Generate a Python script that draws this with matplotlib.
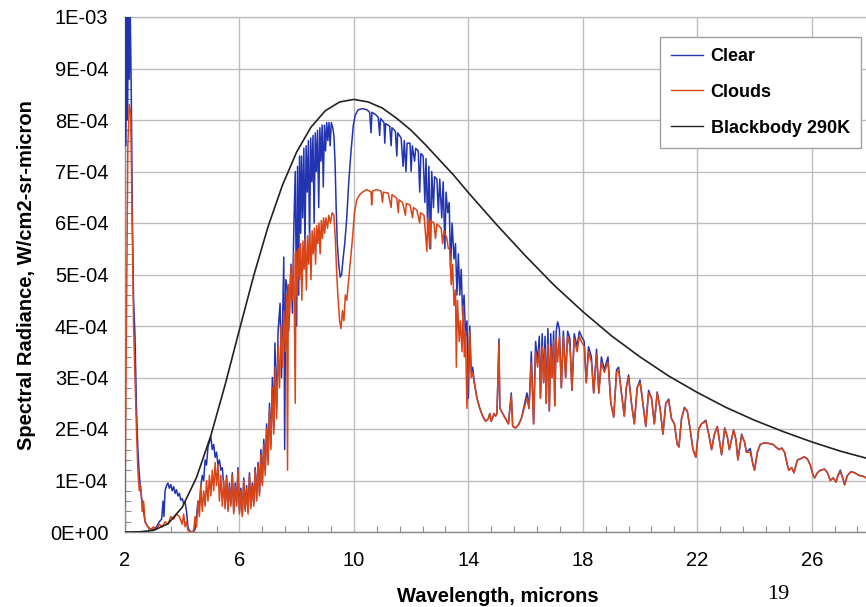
import numpy as np
import matplotlib
matplotlib.use("Agg")
import matplotlib.pyplot as plt
from matplotlib.ticker import FixedLocator, MultipleLocator, FuncFormatter

UNIT = 1e-4  # values below are given in units of 1E-04 W/cm2-sr-micron

# ---------------- Clear sky (blue) ----------------
clear_wl = [2.00, 2.03, 2.06, 2.09, 2.12, 2.15, 2.18, 2.22, 2.26, 2.30, 2.35, 2.40, 2.45, 2.50, 2.55, 2.62, 2.70, 2.80,
            2.90, 3.00, 3.10, 3.20, 3.28, 3.33, 3.36, 3.40, 3.45, 3.50, 3.55, 3.60, 3.65, 3.70, 3.75,
            3.80, 3.85, 3.90, 3.95, 4.00, 4.05, 4.10, 4.15, 4.20, 4.25, 4.35, 4.45, 4.50, 4.55, 4.60,
            4.65, 4.70, 4.75, 4.80, 4.85, 4.90, 4.95, 5.00, 5.05, 5.10, 5.15, 5.20, 5.25, 5.30, 5.35,
            5.40, 5.45, 5.50, 5.55, 5.60, 5.65, 5.70, 5.75, 5.80, 5.85, 5.90, 5.95, 6.00, 6.05, 6.10,
            6.15, 6.20, 6.25, 6.30, 6.35, 6.40, 6.45, 6.50, 6.55, 6.60, 6.65, 6.70, 6.75, 6.80, 6.85,
            6.90, 6.95, 7.00, 7.05, 7.10, 7.15, 7.20, 7.24, 7.30, 7.35, 7.42, 7.47, 7.55, 7.58, 7.62,
            7.68, 7.72, 7.80, 7.85, 7.90, 7.95, 8.00, 8.03, 8.07, 8.10, 8.14, 8.17, 8.21, 8.25, 8.29,
            8.33, 8.37, 8.41, 8.45, 8.49, 8.53, 8.57, 8.61, 8.65, 8.69, 8.73, 8.77, 8.81, 8.85, 8.89,
            8.93, 8.97, 9.01, 9.05, 9.09, 9.13, 9.17, 9.21, 9.26, 9.30, 9.34, 9.38, 9.42, 9.47, 9.52,
            9.57, 9.62, 9.68, 9.75, 9.82, 9.90, 9.98, 10.05, 10.15, 10.30, 10.45, 10.55, 10.60, 10.63,
            10.77, 10.85, 10.90, 10.93, 11.05, 11.08, 11.11, 11.25, 11.30, 11.33, 11.45, 11.50, 11.53,
            11.65, 11.72, 11.76, 11.82, 11.86, 11.96, 12.00, 12.04, 12.12, 12.16, 12.25, 12.30, 12.34,
            12.42, 12.48, 12.52, 12.58, 12.62, 12.68, 12.72, 12.78, 12.82, 12.90, 12.95, 13.00, 13.07,
            13.12, 13.18, 13.22, 13.28, 13.33, 13.38, 13.43, 13.50, 13.55, 13.60, 13.65, 13.70, 13.75,
            13.80, 13.85, 13.90, 13.95, 14.00,
            14.05, 14.10, 14.15, 14.20, 14.30, 14.40, 14.50, 14.60, 14.70, 14.75, 14.80, 14.90, 14.95,
            15.00, 15.07, 15.10, 15.20, 15.30, 15.40, 15.50, 15.55, 15.65, 15.75, 15.85, 15.95, 16.05,
            16.12, 16.20, 16.28, 16.35, 16.42, 16.48, 16.52, 16.58, 16.63, 16.68, 16.72, 16.78, 16.83,
            16.88, 16.93, 16.98, 17.02, 17.07, 17.12, 17.18, 17.25, 17.32, 17.40, 17.47, 17.55, 17.62,
            17.70, 17.80, 17.88, 17.95, 18.05, 18.12, 18.20, 18.30, 18.38, 18.48, 18.56, 18.65, 18.75,
            18.88, 18.98, 19.08, 19.18, 19.25, 19.35, 19.45, 19.52, 19.60, 19.70, 19.80, 19.90]
clear_val = [10.5, 7.5, 10.5, 8.0, 10.5, 8.8, 10.2, 8.5, 6.0, 4.5, 3.8, 2.4, 1.6, 1.1, 0.8, 0.5, 0.2, 0.1,
             0.05, 0.05, 0.1, 0.2, 0.25, 0.6, 0.3, 0.8, 0.9, 0.95, 0.85, 0.92, 0.8, 0.88, 0.75,
             0.82, 0.7, 0.75, 0.62, 0.65, 0.55, 0.58, 0.4, 0.1, 0.02, 0.0, 0.05, 0.3, 0.6, 0.5,
             0.9, 1.1, 1.0, 1.4, 1.3, 1.65, 1.75, 1.85, 1.6, 1.7, 1.45, 1.55, 1.3, 1.4, 1.2,
             1.25, 0.9, 0.5, 1.1, 0.45, 0.95, 0.55, 1.15, 0.4, 0.95, 0.55, 1.25, 0.4, 0.85, 0.35,
             1.05, 0.45, 0.9, 0.4, 1.15, 0.5, 0.95, 0.55, 1.25, 0.65, 1.35, 0.75, 1.6, 0.95, 1.8,
             1.2, 2.1, 1.4, 2.5, 1.7, 3.0, 2.0, 3.67, 2.4, 3.9, 4.44, 3.0, 5.34, 1.6, 4.9,
             4.7, 3.9, 5.2, 4.25, 5.9, 7.0, 4.0, 7.1, 4.6, 7.3, 5.8, 7.3, 6.1, 7.45, 5.5,
             7.5, 6.6, 7.6, 5.6, 7.65, 6.8, 7.7, 6.0, 7.75, 7.0, 7.8, 6.3, 7.85, 7.2, 7.9,
             6.7, 7.9, 7.4, 7.95, 7.6, 7.95, 7.5, 7.95, 7.85, 7.7, 7.2, 6.3, 5.6, 5.2, 4.95,
             5.0, 5.3, 5.6, 6.1, 6.8, 7.4, 7.9, 8.1, 8.2, 8.22, 8.2, 8.15, 7.75, 8.15,
             8.1, 8.05, 7.7, 8.03, 7.95, 7.55, 7.93, 7.88, 7.5, 7.85, 7.78, 7.3, 7.75,
             7.65, 7.1, 7.6, 7.0, 7.55, 7.55, 7.0, 7.5, 7.2, 7.45, 7.4, 6.6, 7.35,
             7.3, 6.4, 7.25, 5.9, 7.1, 5.5, 7.0, 6.3, 6.9, 6.85, 6.2, 6.85, 6.1,
             6.8, 5.5, 6.6, 6.2, 6.4, 5.1, 6.0, 5.3, 5.6, 4.6, 5.4, 4.6, 5.1,
             4.2, 4.6, 3.8, 4.1, 2.6,
             4.0, 3.1, 3.2, 2.95, 2.6, 2.4, 2.25, 2.15, 2.2, 2.3, 2.15, 2.3, 2.25,
             2.3, 3.75, 2.4, 2.3, 2.2, 2.1, 2.7, 2.05, 2.02, 2.08, 2.2, 2.45, 2.7,
             2.4, 3.5, 2.1, 3.7, 3.3, 3.8, 2.6, 3.85, 2.9, 3.8, 2.5, 3.95, 2.35,
             3.85, 3.0, 3.9, 2.45, 3.9, 4.08, 3.95, 2.8, 3.9, 3.0, 3.9, 3.75, 2.75,
             3.85, 3.6, 3.9, 3.8, 3.7, 2.9, 3.6, 3.4, 2.7, 3.55, 2.7, 3.4, 3.15,
             3.4, 2.5, 2.23, 3.15, 3.2, 2.7, 2.25, 2.8, 3.05, 2.5, 2.1, 2.8]

# ---------------- Clouds (red) ----------------
clouds_wl = [2.00, 2.05, 2.10, 2.15, 2.20, 2.25, 2.30, 2.35, 2.40, 2.45, 2.50, 2.55, 2.60, 2.65, 2.70,
             2.80, 2.90, 3.00, 3.10, 3.20, 3.30, 3.40, 3.50, 3.60, 3.70, 3.80, 3.90, 4.00, 4.05, 4.10,
             4.15, 4.20, 4.30, 4.40, 4.45, 4.50, 4.55, 4.60, 4.65, 4.70, 4.75, 4.80, 4.85, 4.90, 4.95,
             5.00, 5.05, 5.10, 5.15, 5.20, 5.25, 5.30, 5.35, 5.40, 5.45, 5.50, 5.55, 5.60, 5.65, 5.70,
             5.75, 5.80, 5.85, 5.90, 5.95, 6.00, 6.05, 6.10, 6.15, 6.20, 6.25, 6.30, 6.35, 6.40, 6.45,
             6.50, 6.55, 6.60, 6.65, 6.70, 6.75, 6.80, 6.85, 6.90, 6.95, 7.00, 7.05, 7.10, 7.15, 7.20,
             7.25, 7.30, 7.35, 7.40, 7.45, 7.50, 7.55, 7.60, 7.65, 7.68, 7.71, 7.75, 7.80, 7.85, 7.90,
             7.95, 7.98, 8.02, 8.06, 8.10, 8.14, 8.18, 8.22, 8.26, 8.30, 8.34, 8.38, 8.42, 8.46, 8.50,
             8.54, 8.58, 8.62, 8.66, 8.70, 8.74, 8.78, 8.82, 8.86, 8.90, 8.94, 8.98, 9.02, 9.08, 9.12,
             9.18, 9.24, 9.30, 9.35, 9.40, 9.45, 9.50, 9.55, 9.60, 9.65, 9.70, 9.75, 9.80, 9.87, 9.95,
             10.02, 10.10, 10.20, 10.30, 10.45, 10.60, 10.62, 10.65, 10.80, 10.95, 11.00, 11.03, 11.20,
             11.30, 11.33, 11.50, 11.55, 11.58, 11.70, 11.80, 11.83, 11.96, 12.05, 12.08, 12.20, 12.30,
             12.33, 12.45, 12.55, 12.58, 12.65, 12.68, 12.80, 12.85, 12.90, 13.05, 13.10, 13.15, 13.25,
             13.30, 13.35, 13.40, 13.45, 13.50, 13.55, 13.58, 13.62, 13.68, 13.72, 13.78, 13.82, 13.86,
             13.90, 13.95, 14.00,
             14.05, 14.10, 14.15, 14.20, 14.30, 14.40, 14.50, 14.60, 14.70, 14.75, 14.80, 14.90, 14.95,
             15.00, 15.07, 15.10, 15.20, 15.30, 15.40, 15.50, 15.55, 15.65, 15.75, 15.85, 15.95, 16.05,
             16.12, 16.20, 16.28, 16.35, 16.42, 16.48, 16.52, 16.58, 16.63, 16.68, 16.72, 16.78, 16.83,
             16.88, 16.93, 16.98, 17.02, 17.07, 17.12, 17.18, 17.25, 17.32, 17.40, 17.47, 17.55, 17.62,
             17.70, 17.80, 17.88, 17.95, 18.05, 18.12, 18.20, 18.30, 18.38, 18.48, 18.56, 18.65, 18.75,
             18.88, 18.98, 19.08, 19.18, 19.25, 19.35, 19.45, 19.52, 19.60, 19.70, 19.80, 19.90]
clouds_val = [0.5, 4.0, 7.5, 8.3, 8.1, 6.0, 4.0, 3.0, 2.0, 1.2, 0.8, 0.9, 0.4, 0.6, 0.2,
              0.1, 0.05, 0.1, 0.05, 0.15, 0.1, 0.2, 0.15, 0.3, 0.25, 0.35, 0.3, 0.15, 0.35, 0.1,
              0.2, 0.03, 0.0, 0.02, 0.3, 0.1, 0.6, 0.3, 0.9, 0.4, 0.8, 0.5, 1.0, 0.6, 1.1,
              0.7, 1.2, 0.8, 1.35, 0.9, 1.3, 0.6, 1.1, 0.5, 1.0, 0.45, 1.05, 0.4, 0.9, 0.5,
              1.1, 0.35, 0.9, 0.5, 1.2, 0.35, 0.8, 0.3, 1.0, 0.4, 0.85, 0.35, 1.1, 0.45, 0.9,
              0.5, 1.2, 0.6, 1.3, 0.7, 1.5, 0.9, 1.7, 1.1, 2.0, 1.3, 2.4, 1.6, 2.8, 1.9,
              3.2, 2.2, 3.6, 2.8, 4.0, 3.2, 4.3, 3.5, 4.6, 1.2, 4.8, 4.2, 5.15, 4.5, 5.4,
              2.5, 5.45, 4.6, 5.5, 4.9, 5.6, 4.5, 5.65, 5.1, 5.7, 4.7, 5.75, 5.2, 5.8, 4.9,
              5.85, 5.4, 5.9, 5.2, 5.95, 5.6, 6.0, 5.4, 6.05, 5.7, 6.1, 5.8, 6.1, 5.9, 6.15,
              6.0, 6.2, 6.15, 5.7, 5.0, 4.5, 4.1, 3.95, 4.3, 4.1, 4.6, 4.5, 4.8, 5.2, 5.7,
              6.2, 6.45, 6.55, 6.6, 6.65, 6.6, 6.35, 6.62, 6.65, 6.62, 6.4, 6.6, 6.58,
              6.3, 6.55, 6.48, 6.2, 6.45, 6.4, 6.15, 6.38, 6.35, 6.1, 6.3, 6.25, 6.0,
              6.2, 6.15, 5.45, 6.1, 5.5, 6.05, 6.0, 5.7, 5.98, 5.9, 5.6, 5.85, 5.7,
              5.5, 5.5, 4.8, 5.2, 4.4, 4.7, 3.2, 4.5, 3.7, 4.1, 3.5, 4.4, 3.4,
              3.9, 2.4, 3.3,
              3.9, 3.0, 3.1, 2.9, 2.6, 2.4, 2.25, 2.15, 2.2, 2.3, 2.15, 2.3, 2.25,
              2.3, 3.67, 2.4, 2.3, 2.2, 2.1, 2.65, 2.05, 2.02, 2.08, 2.2, 2.4, 2.6,
              2.4, 3.3, 2.1, 3.5, 3.2, 3.55, 2.6, 3.6, 2.9, 3.55, 2.5, 3.65, 2.35,
              3.6, 3.0, 3.7, 2.45, 3.75, 3.3, 3.8, 2.8, 3.8, 3.0, 3.8, 3.6, 2.75,
              3.75, 3.5, 3.8, 3.7, 3.6, 2.9, 3.5, 3.3, 2.7, 3.45, 2.7, 3.3, 3.1,
              3.3, 2.5, 2.23, 3.1, 3.15, 2.7, 2.25, 2.8, 3.0, 2.5, 2.1, 2.8]

# ---------------- Far infrared part, both cases nearly identical ----------------
far_wl = [20.00, 20.10, 20.20, 20.30, 20.40, 20.50, 20.60, 20.70, 20.80, 20.90, 21.00, 21.10, 21.20,
          21.30, 21.36, 21.45, 21.55, 21.65, 21.75, 21.85, 21.95, 22.05, 22.15, 22.30, 22.40, 22.50,
          22.60, 22.70, 22.85, 22.96, 23.05, 23.12, 23.27, 23.35, 23.42, 23.55, 23.65, 23.72, 23.85,
          23.95, 24.00, 24.10, 24.20, 24.35, 24.50, 24.65, 24.75, 24.86, 24.95, 25.05, 25.15, 25.20,
          25.30, 25.38, 25.50, 25.60, 25.74, 25.85, 25.95, 26.05, 26.10, 26.20, 26.30, 26.45, 26.55,
          26.65, 26.75, 26.85, 26.92, 27.00, 27.08, 27.15, 27.25, 27.37, 27.50, 27.65, 27.80, 27.90,
          28.00, 28.10, 28.30]
far_clouds = [2.9, 2.5, 2.05, 2.7, 2.6, 2.1, 2.7, 2.4, 1.9, 2.5, 2.55, 2.2, 2.1,
              1.7, 1.65, 2.2, 2.4, 2.35, 2.0, 1.6, 1.45, 2.0, 2.1, 2.15, 1.9, 1.6,
              1.9, 2.05, 1.5, 2.0, 1.85, 1.6, 1.98, 1.8, 1.4, 1.88, 1.75, 1.55, 1.55,
              1.3, 1.2, 1.55, 1.7, 1.73, 1.72, 1.7, 1.65, 1.6, 1.63, 1.55, 1.3, 1.2,
              1.25, 1.15, 1.4, 1.42, 1.46, 1.42, 1.3, 1.1, 1.05, 1.15, 1.2, 1.22, 1.15,
              1.0, 1.05, 0.97, 1.1, 1.17, 1.05, 0.91, 1.1, 1.17, 1.15, 1.1, 1.08, 1.05,
              0.95, 0.85, 0.75]
far_clear = [2.95, 2.5, 2.05, 2.75, 2.6, 2.1, 2.72, 2.4, 1.9, 2.5, 2.58, 2.2, 2.1,
             1.7, 1.65, 2.2, 2.42, 2.35, 2.0, 1.6, 1.45, 2.0, 2.1, 2.17, 1.9, 1.6,
             1.9, 2.05, 1.5, 2.02, 1.85, 1.6, 1.98, 1.8, 1.4, 1.9, 1.75, 1.55, 1.62,
             1.3, 1.2, 1.55, 1.7, 1.73, 1.72, 1.7, 1.65, 1.6, 1.63, 1.55, 1.3, 1.2,
             1.25, 1.15, 1.4, 1.42, 1.46, 1.42, 1.3, 1.1, 1.05, 1.15, 1.2, 1.22, 1.15,
             1.0, 1.05, 0.97, 1.1, 1.2, 1.05, 0.93, 1.1, 1.17, 1.15, 1.1, 1.08, 1.05,
             0.95, 0.85, 0.75]

# ---------------- Blackbody 290 K ----------------
bb_wl = [2.0, 2.5, 3.0, 3.5, 4.0, 4.5, 5.0, 5.5, 6.0, 6.5, 7.0, 7.5, 8.0, 8.5, 9.0, 9.5, 10.0,
         10.5, 11.0, 11.5, 12.0, 12.5, 13.0, 13.5, 14.0, 15.0, 16.0, 17.0, 18.0, 19.0, 20.0,
         21.0, 22.0, 23.0, 24.0, 25.0, 26.0, 27.0, 28.0, 28.3]
bb_val = [0.0001, 0.003, 0.032, 0.159, 0.479, 1.06, 1.87, 2.86, 3.93, 4.98, 5.93, 6.73, 7.38,
          7.86, 8.18, 8.35, 8.40, 8.35, 8.23, 8.03, 7.80, 7.52, 7.22, 6.92, 6.59, 5.96, 5.36,
          4.79, 4.28, 3.81, 3.40, 3.03, 2.71, 2.42, 2.17, 1.95, 1.75, 1.57, 1.42, 1.38]

x_major = [2, 6, 10, 14, 18, 22, 26]
y_major_labels = ["0E+00", "1E-04", "2E-04", "3E-04", "4E-04", "5E-04",
                  "6E-04", "7E-04", "8E-04", "9E-04", "1E-03"]

series_names = ["Clear", "Clouds", "Blackbody 290K"]
col_clear = "#2234B2"
col_clouds = "#DA4518"
col_bb = "#222222"

plt.rcParams["font.family"] = ["Liberation Sans", "DejaVu Sans"]

fig = plt.figure(figsize=(8.66, 6.07), dpi=100)
ax = fig.add_axes([125 / 866, 1 - 532 / 607, 1 - 125 / 866 + 0.01, (532 - 17) / 607])

cw = np.array(clear_wl + far_wl)
cv = np.array(clear_val + far_clear) * UNIT
dw = np.array(clouds_wl + far_wl)
dv = np.array(clouds_val + far_clouds) * UNIT
bw = np.array(bb_wl)
bv = np.array(bb_val) * UNIT

ax.plot(cw, cv, color=col_clear, lw=1.1, label=series_names[0], zorder=3)
ax.plot(dw, dv, color=col_clouds, lw=1.1, label=series_names[1], zorder=4)
ax.plot(bw, bv, color=col_bb, lw=1.2, label=series_names[2], zorder=5)

ax.set_xlim(2, 28.2)
ax.set_ylim(0, 1e-3)

ax.xaxis.set_major_locator(FixedLocator(x_major))
ax.xaxis.set_minor_locator(FixedLocator(np.arange(2, 28.3, 0.8)))
ax.yaxis.set_major_locator(MultipleLocator(1e-4))
ax.yaxis.set_minor_locator(MultipleLocator(2e-5))


def yfmt(v, pos):
    i = int(round(v / 1e-4))
    if 0 <= i < len(y_major_labels):
        return y_major_labels[i]
    return ""


ax.yaxis.set_major_formatter(FuncFormatter(yfmt))

ax.grid(True, which="major", color="#bdbdbd", lw=1.0, zorder=0)
ax.set_axisbelow(True)
for s in ["left", "bottom", "top"]:
    ax.spines[s].set_color("#8c8c8c")
    ax.spines[s].set_linewidth(1.0)
ax.spines["top"].set_color("#bdbdbd")
ax.spines["right"].set_visible(False)

ax.tick_params(axis="both", which="major", direction="in", length=0, labelsize=14.5,
               colors="#8c8c8c", labelcolor="black")
ax.tick_params(axis="x", which="major", pad=14)
ax.tick_params(axis="y", which="major", pad=12)
ax.tick_params(axis="both", which="minor", direction="in", length=4, width=0.8, colors="#8c8c8c")

fig.text(498 / 866, 1 - 597 / 607, "Wavelength, microns", ha="center", va="center",
         fontsize=14.5, fontweight="bold")
fig.text(27 / 866, 1 - 275 / 607, "Spectral Radiance, W/cm2-sr-micron", ha="center", va="center",
         rotation=90, fontsize=14.5, fontweight="bold")

leg = ax.legend(loc="upper left", bbox_to_anchor=(660 / 866, 1 - 37 / 607),
                bbox_transform=fig.transFigure, frameon=True, fancybox=False,
                prop={"weight": "bold", "size": 13}, handlelength=1.8, handletextpad=0.4,
                labelspacing=1.05, borderpad=0.6, borderaxespad=0)
leg.get_frame().set_edgecolor("#a0a0a0")
leg.get_frame().set_linewidth(1.0)
leg.get_frame().set_alpha(1.0)
for line in leg.get_lines():
    line.set_linewidth(1.0)

# slide page number in the corner (kept fully inside the picture)
fig.text(778 / 866, 1 - 599 / 607, "19", ha="center", va="baseline", fontsize=16,
         family=["Liberation Serif", "DejaVu Serif"])

fig.savefig("out.png", dpi=100)
